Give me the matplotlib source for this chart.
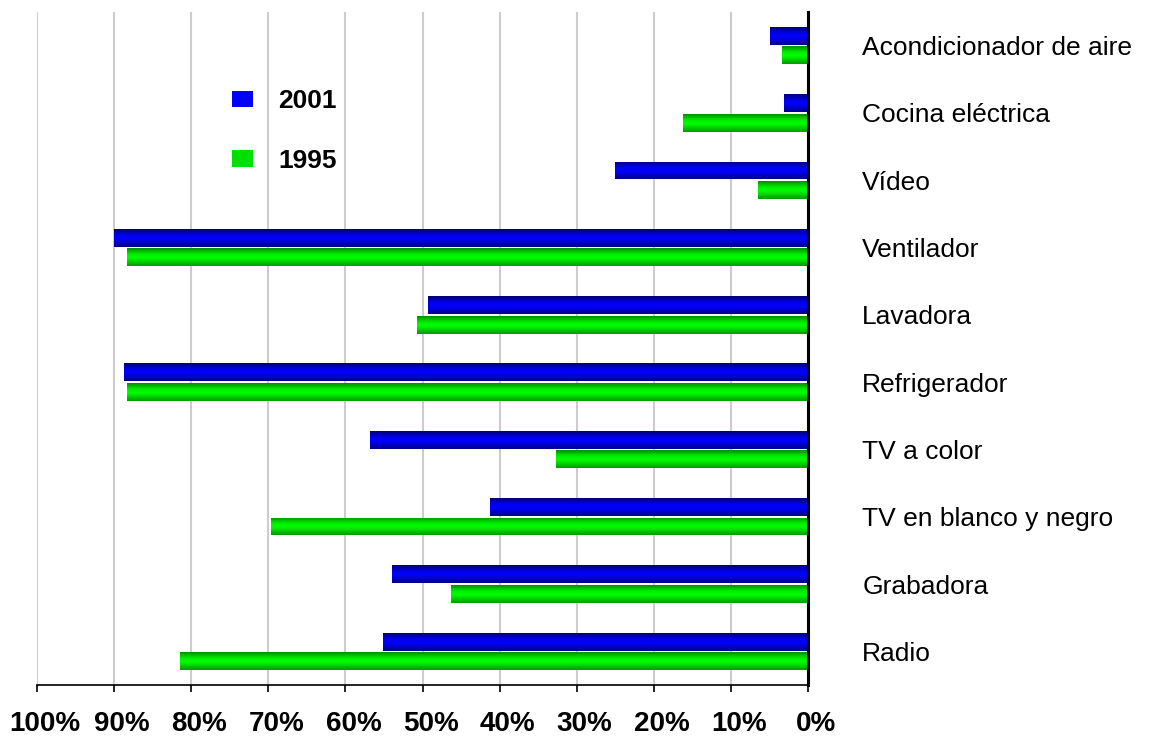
import numpy as np
import matplotlib
matplotlib.use("Agg")
import matplotlib.pyplot as plt
from matplotlib.colors import LinearSegmentedColormap
from matplotlib.patches import Patch
from matplotlib.transforms import ScaledTranslation

categories = ["Acondicionador de aire", "Cocina eléctrica", "Vídeo", "Ventilador",
              "Lavadora", "Refrigerador", "TV a color", "TV en blanco y negro",
              "Grabadora", "Radio"]
values_2001 = [4.9, 3.1, 25.0, 90.0, 49.3, 88.7, 56.8, 41.2, 54.0, 55.1]
values_1995 = [3.4, 16.2, 6.5, 88.3, 50.7, 88.3, 32.7, 69.6, 46.3, 81.5]
series_labels = ["2001", "1995"]
xticks = [100, 90, 80, 70, 60, 50, 40, 30, 20, 10, 0]
xtick_labels = [f"{t}%" for t in xticks]

plt.rcParams['font.family'] = ['Liberation Sans', 'DejaVu Sans']

W, H = 1164, 736
fig = plt.figure(figsize=(W / 100, H / 100), dpi=100)
ax = fig.add_axes([37 / W, (736 - 685) / H, (808 - 37) / W, (685 - 12) / H])

y = np.arange(len(categories))
bh = 0.265
off = 0.145

blue_cmap = LinearSegmentedColormap.from_list(
    "b", [(0, "#000070"), (0.35, "#0000f0"), (0.55, "#0000ff"), (1, "#00008a")])
green_cmap = LinearSegmentedColormap.from_list(
    "g", [(0, "#008f00"), (0.35, "#00f000"), (0.55, "#00ff00"), (1, "#009a00")])

bars_b = ax.barh(y - off, values_2001, height=bh, color="#0000ff", zorder=2)
bars_g = ax.barh(y + off, values_1995, height=bh, color="#00ff00", zorder=2)

grad = np.linspace(0, 1, 64).reshape(-1, 1)
for bars, cmap in ((bars_b, blue_cmap), (bars_g, green_cmap)):
    for p in bars:
        bb = p.get_bbox()
        im = ax.imshow(grad, extent=[bb.x0, bb.x1, bb.y1, bb.y0], aspect="auto",
                       cmap=cmap, origin="upper", zorder=3, interpolation="bilinear")
        im.set_clip_path(p)

ax.set_xlim(100, 0)
ax.set_ylim(len(categories) - 0.5, -0.5)

ax.set_xticks(xticks)
ax.set_xticklabels(xtick_labels, fontsize=20, fontweight="bold")
ax.tick_params(axis="x", direction="out", length=5, width=1.2, pad=13.5, colors="black")
shift = ScaledTranslation(8 / 100, 0, fig.dpi_scale_trans)
for lab in ax.get_xticklabels():
    lab.set_transform(lab.get_transform() + shift)
ax.xaxis.grid(True, color="#cccccc", linewidth=1.5, zorder=0)
ax.set_axisbelow(True)

ax.yaxis.tick_right()
ax.set_yticks(y)
ax.set_yticklabels(categories, fontsize=19)
ax.tick_params(axis="y", length=0, pad=39)

for s in ("top", "left"):
    ax.spines[s].set_visible(False)
ax.spines["right"].set_linewidth(2.2)
ax.spines["right"].set_zorder(5)
ax.spines["bottom"].set_linewidth(1.2)

handles = [Patch(facecolor="#0000ff", edgecolor="none"),
           Patch(facecolor="#00e000", edgecolor="none")]
fig.legend(handles, series_labels, loc="upper left",
           bbox_to_anchor=(219 / W, 1 - 76 / H), frameon=False,
           prop={"size": 19, "weight": "bold"}, borderpad=0,
           handlelength=0.8, handleheight=0.6, handletextpad=0.95, labelspacing=1.35)

fig.savefig("out.png", dpi=100)
